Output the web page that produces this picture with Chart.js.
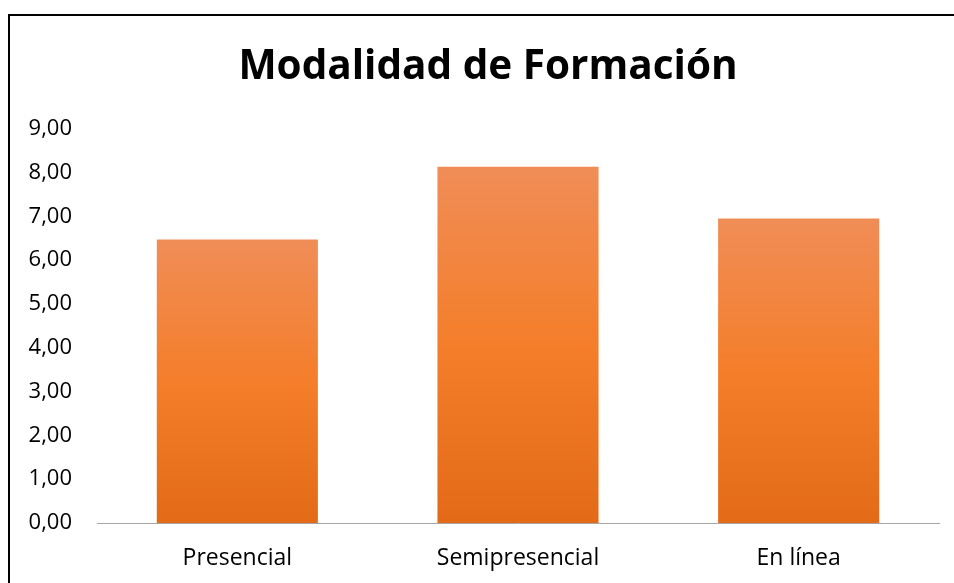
<!DOCTYPE html>
<html>
<head>
<meta charset="utf-8">
<script src="https://cdn.jsdelivr.net/npm/chart.js@4"></script>
<style>
  html, body { margin: 0; padding: 0; background: #fff; overflow: hidden; width: 954px; height: 583px; }
  #box { position: absolute; left: 8px; top: 14px; width: 958px; height: 567px;
         border-top: 2px solid #000; border-left: 2px solid #000; background: #fff; }
  #wrap { position: relative; width: 958px; height: 567px; }
</style>
</head>
<body>
<div id="box"><div id="wrap"><canvas id="c"></canvas></div></div>
<script>
const titleText = 'Modalidad de Formación';
const categories = ['Presencial', 'Semipresencial', 'En línea'];
const values = [6.47, 8.13, 6.95];
const yMin = 0, yMax = 9, yStep = 1;

const fontFamily = '"Open Sans", "Liberation Sans", sans-serif';

function barGradient(context) {
  const chart = context.chart;
  const area = chart.chartArea;
  if (!area || !context.parsed) return '#F47F2C';
  const y = chart.scales.y;
  const top = y.getPixelForValue(context.parsed.y);
  const bottom = y.getPixelForValue(0);
  const g = chart.ctx.createLinearGradient(0, top, 0, bottom);
  g.addColorStop(0, '#F08D57');
  g.addColorStop(0.5, '#F47E2A');
  g.addColorStop(1, '#E36B18');
  return g;
}

new Chart(document.getElementById('c'), {
  type: 'bar',
  data: {
    labels: categories,
    datasets: [{
      data: values,
      backgroundColor: barGradient,
      borderWidth: 0,
      categoryPercentage: 1,
      barPercentage: 0.574,
      yAxisID: 'y'
    }]
  },
  options: {
    responsive: true,
    maintainAspectRatio: false,
    animation: false,
    layout: { padding: { left: 0, right: 2, top: 0, bottom: 0 } },
    plugins: {
      legend: { display: false },
      tooltip: { enabled: false },
      title: {
        display: true,
        text: titleText,
        color: '#000',
        font: { family: fontFamily, size: 40.5, weight: 'bold', lineHeight: 1.2 },
        padding: { top: 27, bottom: 37 }
      }
    },
    scales: {
      x: {
        grid: { display: false, drawTicks: false },
        border: { display: true, color: '#A6A6A6', width: 1 },
        ticks: { color: '#000', padding: 22, font: { family: fontFamily, size: 23 } },
        afterFit: (scale) => { scale.height = 60; }
      },
      y: {
        position: 'left',
        min: yMin, max: yMax,
        grid: { display: false, drawTicks: false },
        border: { display: false },
        ticks: {
          stepSize: yStep,
          color: '#000',
          padding: 25,
          font: { family: fontFamily, size: 22 },
          callback: (v) => Number(v).toFixed(2).replace('.', ',')
        },
        afterFit: (scale) => { scale.width = 87; }
      },
      yRightSpace: {
        type: 'linear',
        position: 'right',
        min: yMin, max: yMax,
        grid: { display: false, drawTicks: false },
        border: { display: false },
        ticks: { display: false },
        afterFit: (scale) => { scale.width = 27; }
      }
    }
  }
});
</script>
</body>
</html>
